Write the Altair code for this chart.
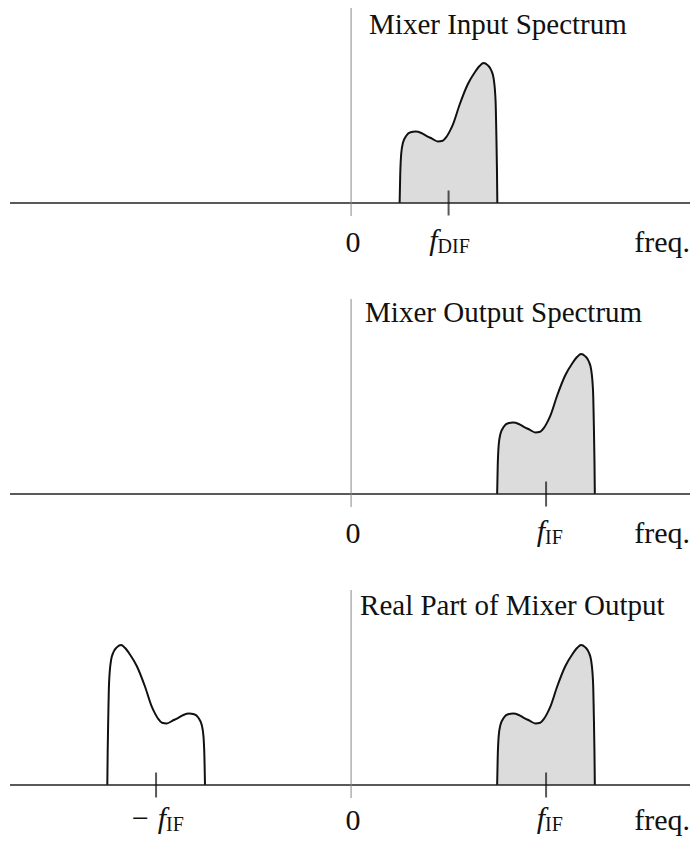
import altair as alt
import pandas as pd

FONT = "Liberation Serif"

# ---------------- data ----------------
# band shape: offset from the band centre (in units of f_IF) and normalised amplitude
shape_offset = [-0.251, -0.248, -0.243, -0.234, -0.217, -0.195, -0.169, -0.140, -0.114,
                -0.085, -0.055, -0.030, -0.012, 0.005, 0.022, 0.056, 0.099, 0.133,
                0.160, 0.179, 0.200, 0.218, 0.231, 0.241, 0.245, 0.248, 0.250]
shape_amp = [0.00, 0.20, 0.35, 0.43, 0.48, 0.505, 0.51, 0.50, 0.48,
             0.46, 0.44, 0.445, 0.47, 0.51, 0.56, 0.70, 0.85, 0.93,
             0.98, 1.00, 0.985, 0.95, 0.89, 0.73, 0.49, 0.25, 0.00]

f_dif = 0.5
f_if = 1.0
freq_min, freq_max = -1.749, 1.738

panel_titles = ["Mixer Input Spectrum", "Mixer Output Spectrum", "Real Part of Mixer Output"]
# bands per panel: (centre, filled, mirrored)
panel_bands = [
    [(f_dif, True, False)],
    [(f_if, True, False)],
    [(-f_if, False, True), (f_if, True, False)],
]
# tick labels per panel: (position, main text, subscript)
panel_ticks = [
    [(f_dif, "f", "DIF")],
    [(f_if, "f", "IF")],
    [(-f_if, "\u2212 f", "IF"), (f_if, "f", "IF")],
]

# ---------------- layout / style ----------------
W, H = 680, 830
PX = 140.0                       # pixels per unit of amplitude
BASE_PX = [195, 486, 777]        # baseline of each panel, pixels from the top of the plot
TOP_PX = [0, 291, 582]           # top of the zero line of each panel
title_dx = [18, 14, 9]
title_dy = [-169, -172, -170]
label_dy = [49, 49, 45]          # text baseline below the axis, per panel
label_shift = {("f", "DIF"): -11, ("f", "IF"): -1, ("\u2212 f", "IF"): 10}
FILL = "#dcdcdc"
INK = "#111111"

y_hi = BASE_PX[0] / PX
y_lo = (BASE_PX[0] - H) / PX
base = [(BASE_PX[0] - b) / PX for b in BASE_PX]      # panel baselines in amplitude units
top = [(BASE_PX[0] - t) / PX for t in TOP_PX]

xs = alt.Scale(domain=[freq_min, freq_max], nice=False, zero=False)
ys = alt.Scale(domain=[y_lo, y_hi], nice=False, zero=False)

rows = []
for k, bands in enumerate(panel_bands):
    for b, (c, filled, mirrored) in enumerate(bands):
        s = -1 if mirrored else 1
        for o, a in zip(shape_offset, shape_amp):
            rows.append({"band": f"{k}-{b}", "freq": c + s * o, "amp": a + base[k],
                         "base": base[k], "filled": filled})
bands_df = pd.DataFrame(rows).sort_values(["band", "freq"])

panels_df = pd.DataFrame({
    "panel": [0, 1, 2],
    "base": base,
    "top": top,
    "bottom": [b - 13 / PX for b in base],
    "title": panel_titles,
})

X = alt.X("freq:Q", scale=xs, axis=None)
Y = alt.Y("amp:Q", scale=ys, axis=None)

layers = [
    alt.Chart(bands_df[bands_df["filled"]]).mark_area(interpolate="monotone", color=FILL, opacity=1)
    .encode(x=X, y=Y, y2="base:Q", detail="band:N"),
    alt.Chart(bands_df).mark_line(interpolate="monotone", color=INK, strokeWidth=2)
    .encode(x=X, y=Y, detail="band:N"),
    # horizontal frequency axes
    alt.Chart(panels_df).mark_rule(color="#222222", strokeWidth=1.6)
    .encode(x=alt.XDatum(freq_min, scale=xs, axis=None), x2=alt.datum(freq_max),
            y=alt.Y("base:Q", scale=ys, axis=None)),
    # vertical lines at zero frequency
    alt.Chart(panels_df).mark_rule(color="#888888", strokeWidth=1)
    .encode(x=alt.XDatum(0, scale=xs, axis=None),
            y=alt.Y("top:Q", scale=ys, axis=None), y2="bottom:Q"),
]

for k in range(3):
    pdf = panels_df[panels_df["panel"] == k]
    PY = alt.Y("base:Q", scale=ys, axis=None)
    ld = label_dy[k]
    layers += [
        alt.Chart(pdf).mark_text(font=FONT, fontSize=29, color=INK, align="left",
                                 baseline="alphabetic", dx=title_dx[k], dy=title_dy[k])
        .encode(x=alt.XDatum(0, scale=xs, axis=None), y=PY, text="title:N"),
        alt.Chart(pdf).mark_text(text="0", font=FONT, fontSize=30, color=INK,
                                 align="center", baseline="alphabetic", dx=2, dy=ld)
        .encode(x=alt.XDatum(0, scale=xs, axis=None), y=PY),
        alt.Chart(pdf).mark_text(text="freq.", font=FONT, fontSize=30, color=INK,
                                 align="right", baseline="alphabetic", dx=0, dy=ld)
        .encode(x=alt.XDatum(freq_max, scale=xs, axis=None), y=PY),
    ]
    for pos, main, sub in panel_ticks[k]:
        d = label_shift[(main, sub)]
        tdf = pd.DataFrame({"pos": [pos], "base": [base[k]], "main": [main], "sub": [sub]})
        TX = alt.X("pos:Q", scale=xs, axis=None)
        TY = alt.Y("base:Q", scale=ys, axis=None)
        layers += [
            alt.Chart(tdf).mark_tick(orient="vertical", size=25, thickness=2, color=INK)
            .encode(x=TX, y=TY),
            alt.Chart(tdf).mark_text(font=FONT, fontSize=30, fontStyle="italic", color=INK,
                                     align="right", baseline="alphabetic", dx=d, dy=ld - 2)
            .encode(x=TX, y=TY, text="main:N"),
            alt.Chart(tdf).mark_text(font=FONT, fontSize=20, color=INK,
                                     align="left", baseline="alphabetic", dx=d, dy=ld + 1)
            .encode(x=TX, y=TY, text="sub:N"),
        ]

chart = (
    alt.layer(*layers)
    .properties(width=W, height=H,
                autosize=alt.AutoSizeParams(type="none"),
                padding={"left": 2, "top": 0, "right": 0, "bottom": 0})
    .configure_view(stroke=None)
)

chart.save("out.html", embed_options={"renderer": "svg", "actions": False})
